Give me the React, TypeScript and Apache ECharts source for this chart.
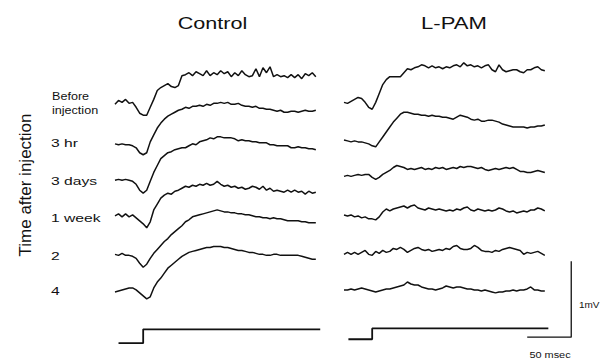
import { useEffect, useRef } from "react";
import * as echarts from "echarts";

// Sampling interval of the recorded traces (ms); values are in µV relative to each trace's pre-stimulus level.
const SAMPLE_MS = 4;

const rowLabels = ["3 hr", "3 days", "1 week", "2", "4"];
const panelTitles = ["Control", "L-PAM"];

// Control eye
const controlBefore = [0, 52, 26, 65, 13, 26, -39, -117, -143, -143, -39, 65, 182, 221, 247, 273, 234, 221, 247, 377, 390, 416, 377, 429, 403, 377, 442, 377, 416, 390, 442, 403, 429, 364, 416, 377, 442, 390, 364, 377, 468, 364, 481, 416, 494, 364, 390, 364, 377, 351, 390, 351, 390, 338, 403, 377, 416, 364];
const control3hr = [13, 0, 13, 0, 0, -13, -39, -104, -130, -104, 39, 130, 221, 286, 338, 377, 403, 429, 455, 468, 494, 481, 507, 507, 520, 507, 533, 520, 546, 546, 559, 546, 559, 533, 533, 546, 520, 507, 507, 494, 507, 481, 481, 468, 468, 455, 442, 455, 429, 429, 442, 442, 429, 442, 455, 442, 442, 455];
const control3days = [0, 13, 0, 13, 0, -13, -52, -130, -169, -130, -13, 104, 195, 286, 325, 364, 377, 403, 416, 429, 429, 455, 481, 468, 507, 520, 533, 559, 546, 572, 572, 559, 559, 559, 546, 520, 533, 520, 520, 507, 507, 494, 494, 494, 468, 468, 455, 455, 455, 455, 429, 429, 442, 429, 429, 416, 416, 403];
const control1week = [0, 26, -13, 26, -13, 13, -26, -65, -104, -156, -78, 78, 156, 234, 273, 299, 286, 325, 338, 364, 390, 377, 403, 390, 416, 403, 429, 403, 416, 455, 416, 390, 403, 377, 390, 364, 377, 351, 364, 390, 377, 351, 390, 338, 364, 325, 338, 325, 312, 338, 312, 338, 312, 325, 286, 325, 299, 312];
const control2weeks = [0, -13, 13, -13, -13, -26, -52, -117, -169, -130, -52, 13, 65, 117, 169, 208, 260, 299, 338, 377, 429, 455, 494, 507, 520, 533, 546, 559, 572, 585, 572, 559, 559, 546, 546, 533, 533, 520, 520, 507, 494, 494, 481, 481, 468, 481, 468, 468, 455, 442, 442, 442, 442, 429, 429, 416, 416, 416];
const control4weeks = [-13, 0, 13, 26, 39, 39, 13, -26, -65, -104, -78, 39, 117, 169, 234, 299, 338, 377, 416, 455, 481, 507, 520, 533, 546, 559, 572, 572, 585, 585, 585, 572, 572, 559, 546, 533, 533, 520, 507, 507, 494, 481, 481, 468, 468, 481, 481, 468, 468, 468, 468, 468, 468, 455, 442, 429, 416, 416];

// L-PAM treated eye
const lpamBefore = [0, -13, 13, 39, 65, 52, 0, -65, -91, 0, 117, 234, 299, 338, 338, 338, 338, 390, 442, 429, 455, 468, 494, 481, 455, 481, 455, 468, 442, 468, 455, 481, 494, 468, 520, 481, 494, 468, 481, 455, 481, 494, 429, 403, 494, 429, 403, 416, 429, 429, 403, 390, 429, 429, 455, 468, 429, 416];
const lpam3hr = [0, -13, -26, -13, -26, -26, -39, -52, -78, -91, -26, 39, 104, 169, 234, 286, 338, 364, 364, 351, 338, 338, 325, 325, 312, 325, 312, 312, 299, 299, 286, 273, 299, 325, 312, 299, 273, 260, 273, 247, 247, 260, 260, 247, 234, 208, 195, 182, 169, 169, 169, 169, 156, 169, 169, 182, 182, 195];
const lpam3days = [0, 13, 0, 13, 26, 13, 26, 26, -13, -39, -13, 26, 52, 78, 117, 143, 130, 117, 91, 104, 91, 104, 117, 91, 104, 91, 117, 104, 117, 91, 104, 117, 104, 130, 117, 130, 130, 117, 104, 117, 91, 78, 91, 104, 91, 104, 117, 104, 117, 91, 65, 65, 52, 52, 65, 78, 65, 52];
const lpam1week = [0, -13, 0, -26, -13, -39, -26, -52, -52, -65, -26, 39, 78, 52, 78, 91, 104, 117, 91, 117, 130, 91, 78, 65, 91, 78, 65, 78, 65, 52, 65, 52, 78, 65, 91, 104, 65, 52, 78, 65, 52, 65, 52, 65, 91, 78, 52, 39, 52, 26, 39, 52, 39, 65, 65, 91, 78, 52];
const lpam2weeks = [0, 26, 0, 26, 0, 26, 52, 0, -13, 39, 13, 52, 26, 39, 78, 65, 91, 65, 26, 52, 78, 91, 65, 52, 65, 39, 52, 65, 52, 78, 65, 104, 117, 78, 65, 65, 78, 117, 91, 52, 39, 39, 26, 52, 39, 65, 78, 91, 78, 65, 52, 0, 26, 13, 26, 39, 13, -13];
const lpam4weeks = [0, 0, 13, 0, 13, 26, 13, 0, -13, -26, -13, 0, 13, 13, 26, 39, 52, 65, 104, 78, 65, 65, 39, 26, 13, 13, 0, 13, 26, 52, 39, 26, 39, 39, 26, 13, 13, 0, 0, -13, 0, -13, -26, -39, -26, -26, -13, -13, 0, -13, 0, 0, 13, 39, 0, 0, -13, -13];

// Vertical offsets (µV) that stack the traces, top to bottom
const controlOffsets = [3364, 2831, 2364, 1896, 1390, 909];
const lpamOffsets = [3390, 2896, 2416, 1909, 1390, 922];

// Light stimulus marker: [time ms, level µV]
const controlStimulus = [[4, 221], [32, 221], [32, 403], [233, 403]];
const lpamStimulus = [[5, 273], [32, 273], [32, 416], [232, 416]];

// Calibration: 50 ms horizontally, 1 mV vertically
const scaleBar = [[208, 300], [258, 300], [258, 1300]];

const controlTraces = [controlBefore, control3hr, control3days, control1week, control2weeks, control4weeks];
const lpamTraces = [lpamBefore, lpam3hr, lpam3days, lpam1week, lpam2weeks, lpam4weeks];

const FONT = "'Liberation Sans', Arial, Helvetica, sans-serif";
const INK = "#111111";

function traceSeries(traces: number[][], offsets: number[], gridIndex: number) {
  return traces.map((vals, k) => ({
    type: "line",
    xAxisIndex: gridIndex,
    yAxisIndex: gridIndex,
    showSymbol: false,
    silent: true,
    lineStyle: { color: INK, width: 1.5 },
    data: vals.map((v, i) => [i * SAMPLE_MS, offsets[k] + v]),
  }));
}

function stepSeries(points: number[][], gridIndex: number, width: number) {
  return {
    type: "line",
    xAxisIndex: gridIndex,
    yAxisIndex: gridIndex,
    showSymbol: false,
    silent: true,
    lineStyle: { color: INK, width },
    data: points,
  };
}

export default function App() {
  const ref = useRef<HTMLDivElement>(null);

  useEffect(() => {
    if (!ref.current) return;
    const chart = echarts.init(ref.current, null, { renderer: "svg" });

    const rowY = [143, 181, 218, 256, 291];
    // The lettering in this figure is set wide, hence the horizontal stretch.
    const labelText = (text: string, x: number, y: number, size: number, stretch: number, align = "left") => ({
      type: "text",
      x,
      y,
      scaleX: stretch,
      style: {
        text,
        fill: INK,
        font: `${size}px ${FONT}`,
        textAlign: align,
        textVerticalAlign: "middle",
      },
    });

    chart.setOption({
      animation: false,
      backgroundColor: "#ffffff",
      grid: [
        { left: 115, top: 56, width: 229, height: 308 },
        { left: 344, top: 56, width: 229, height: 308 },
      ],
      xAxis: [0, 1].map((g) => ({ type: "value", gridIndex: g, min: 0, max: 260, show: false })),
      yAxis: [0, 1].map((g) => ({ type: "value", gridIndex: g, min: 0, max: 4000, show: false })),
      series: [
        ...traceSeries(controlTraces, controlOffsets, 0),
        ...traceSeries(lpamTraces, lpamOffsets, 1),
        stepSeries(controlStimulus, 0, 1.8),
        stepSeries(lpamStimulus, 1, 1.8),
        stepSeries(scaleBar, 1, 1.3),
      ],
      graphic: [
        labelText(panelTitles[0], 212.5, 23, 17, 1.27, "center"),
        labelText(panelTitles[1], 454, 23, 17, 1.3, "center"),
        labelText("Before", 52, 96, 10.5, 1.2),
        labelText("injection", 52, 110, 10.5, 1.2),
        ...rowLabels.map((t, i) => labelText(t, 51, rowY[i], 11.6, 1.35)),
        {
          type: "text",
          x: 25,
          y: 185,
          rotation: Math.PI / 2,
          style: {
            text: "Time after injection",
            fill: INK,
            font: `17px ${FONT}`,
            textAlign: "center",
            textVerticalAlign: "middle",
          },
        },
        labelText("1mV", 579, 305, 9.5, 1.05),
        labelText("50 msec", 550, 355, 9.5, 1.15, "center"),
      ],
    });

    return () => chart.dispose();
  }, []);

  return (
    <div
      ref={ref}
      style={{ position: "fixed", left: 0, top: 0, width: 607, height: 360, background: "#fff" }}
    />
  );
}
